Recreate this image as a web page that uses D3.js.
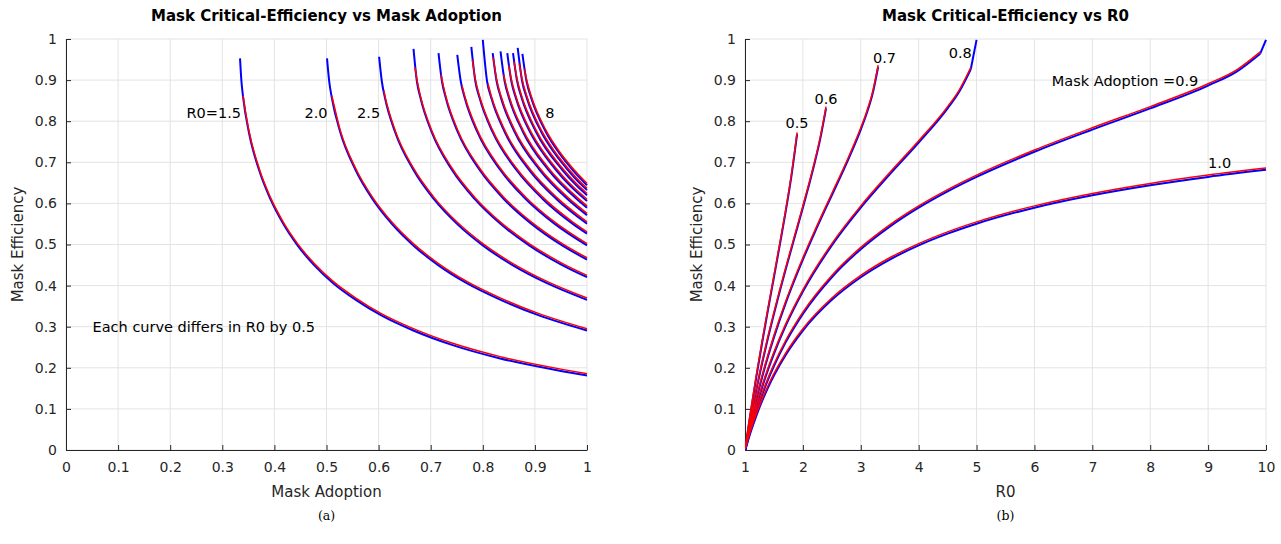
<!DOCTYPE html>
<html><head><meta charset="utf-8">
<script src="https://cdn.jsdelivr.net/npm/d3@7"></script>
<style>
html,body{margin:0;padding:0;background:#fff;}
svg text{font-family:"DejaVu Sans",sans-serif;fill:#262626;}
</style></head>
<body>
<svg id="chart" width="1281" height="544"></svg>
<script>
// ---------------- Panel (a): efficiency vs adoption, one curve per R0 ----------------
const leftR0 = [1.5, 2.0, 2.5, 3.0, 3.5, 4.0, 4.5, 5.0, 5.5, 6.0, 6.5, 7.0, 7.5, 8.0];
const leftBodyP = [
  [.3367,.3401,.3509,.3704,.3922,.4167,.4444,.4762,.5128,.5556,.6061,.6667,.7407,.8333,.9524,1],
  [.5051,.5102,.5263,.5556,.5882,.625,.6667,.7143,.7692,.8333,.9091,1],
  [.6061,.6122,.6316,.6667,.7059,.75,.8,.8571,.9231,1],
  [.6734,.6803,.7018,.7407,.7843,.8333,.8889,.9524,1],
  [.7215,.7289,.7519,.7937,.8403,.8929,.9524,1],
  [.7576,.7653,.7895,.8333,.8824,.9375,1],
  [.7856,.7937,.8187,.8642,.9150,.9722,1],
  [.8081,.8163,.8421,.8889,.9412,1],
  [.8264,.8349,.8612,.9091,.9626,1],
  [.8418,.8503,.8772,.9259,.9804,1],
  [.8547,.8634,.8907,.9148,.9402,.9670,1],
  [.8658,.8746,.9023,.9524,.9796,1],
  [.8754,.8844,.9123,.9369,.9630,.9905,1],
  [.8838,.8929,.9211,.9459,.9722,1]
];
const leftBodyE = [
  [.900,.859,.776,.684,.613,.553,.500,.452,.408,.368,.329,.293,.258,.225,.194,.1835],
  [.900,.859,.776,.684,.613,.553,.500,.452,.408,.368,.329,.2929],
  [.900,.859,.776,.684,.613,.553,.500,.452,.408,.3675],
  [.900,.859,.776,.684,.613,.553,.500,.452,.4226],
  [.900,.859,.776,.684,.613,.553,.500,.4655],
  [.900,.859,.776,.684,.613,.553,.500],
  [.900,.859,.776,.684,.613,.553,.5286],
  [.900,.859,.776,.684,.613,.5528],
  [.900,.859,.776,.684,.613,.5736],
  [.900,.859,.776,.684,.613,.5918],
  [.900,.859,.776,.726,.684,.646,.6078],
  [.900,.859,.776,.684,.646,.6220],
  [.900,.859,.776,.726,.684,.646,.6349],
  [.900,.859,.776,.726,.684,.6464]
];
const leftBlueTopP = [.334,.501,.601,.667,.715,.751,.778,.800,.819,.834,.847,.858,.867,.876];
const leftBlueTopE = [.955,.955,.959,.978,.968,.9635,.983,1.0,.968,.972,.968,.968,.9805,.966];
const leftRedTopP  = [.34,.51,.61,.67,.72,.76,.78,.81,.82,.84,.85,.86,.87,.88];
const leftRedTopE  = [.860,.860,.872,.929,.911,.885,.947,.889,.953,.911,.933,.942,.938,.925];
const leftTicks = [0,0.1,0.2,0.3,0.4,0.5,0.6,0.7,0.8,0.9,1];
const effTicks  = [0,0.1,0.2,0.3,0.4,0.5,0.6,0.7,0.8,0.9,1];
const leftLabels = [
  {text:"R0=1.5", p:0.336, e:0.82, anchor:"end"},
  {text:"2.0", p:0.502, e:0.82, anchor:"end"},
  {text:"2.5", p:0.603, e:0.82, anchor:"end"},
  {text:"8", p:0.92, e:0.82, anchor:"start"},
  {text:"Each curve differs in R0 by 0.5", p:0.051, e:0.30, anchor:"start"}
];

// ---------------- Panel (b): efficiency vs R0, one curve per adoption ----------------
const rightAdoption = [0.5, 0.6, 0.7, 0.8, 0.9, 1.0];
const rightR0 = [
  [1,1.05,1.1,1.2,1.3,1.4,1.5,1.6,1.7,1.8,1.9],
  [1,1.05,1.1,1.2,1.3,1.4,1.5,1.6,1.7,1.8,1.9,2,2.1,2.2,2.3,2.4],
  [1,1.05,1.1,1.2,1.3,1.4,1.5,1.7,1.8,2,2.2,2.4,2.5,2.8,3,3.1,3.2,3.3],
  [1,1.05,1.1,1.2,1.3,1.4,1.5,1.7,2,2.5,3,3.5,4,4.5,4.7,4.9],
  [1,1.05,1.1,1.2,1.3,1.4,1.5,1.7,2,2.5,3,3.5,4,4.5,5,6,7,8,9,9.5,9.9],
  [1,1.05,1.1,1.2,1.3,1.4,1.5,1.7,2,2.5,3,3.5,4,4.5,5,6,7,8,9,10]
];
const rightE = [
  [0,.0488,.0955,.1835,.2662,.3453,.4226,.5,.5799,.6667,.7706],
  [0,.0405,.0789,.1502,.2155,.2763,.3333,.3876,.4399,.4908,.5412,.5918,.6437,.6985,.7592,.8333],
  [0,.0346,.0672,.1271,.1813,.2307,.2763,.3583,.3958,.4655,.5301,.5918,.6220,.7143,.7818,.8204,.8664,.9342],
  [0,.0302,.0585,.1102,.1565,.1982,.2362,.3034,.3876,.5,.5918,.6727,.75,.8333,.8737,.9286],
  [0,.0268,.0519,.0973,.1377,.1738,.2065,.2635,.3333,.4226,.4908,.5457,.5918,.6315,.6667,.7278,.7818,.8333,.8889,.9235,.9665],
  [0,.0241,.0465,.0871,.1229,.1548,.1835,.2330,.2929,.3675,.4226,.4655,.5,.5286,.5528,.5918,.6220,.6464,.6667,.6838]
];
// blue series carries one more sample at the top for adoption 0.8 and 0.9
const rightBlueExtraR0 = [null, null, null, 5, 10, null];
const rightBlueExtraE  = [null, null, null, 1, 1, null];
const rightTicks = [1,2,3,4,5,6,7,8,9,10];
const rightLabels = [
  {text:"0.5", r:1.70, e:0.795},
  {text:"0.6", r:2.20, e:0.854},
  {text:"0.7", r:3.21, e:0.955},
  {text:"0.8", r:4.52, e:0.967},
  {text:"Mask Adoption =0.9", r:6.30, e:0.899},
  {text:"1.0", r:9.00, e:0.698}
];

// ---------------- drawing ----------------
const svg = d3.select("#chart");
const TOP = 39, BOTTOM = 450;
const AXIS = "#262626", GRID = "#e3e3e3";

function panel(x0, x1, xDomain, xTicks, xFmt, title, xLabel, caption, clipId) {
  const x = d3.scaleLinear().domain(xDomain).range([x0, x1]);
  const y = d3.scaleLinear().domain([0, 1]).range([BOTTOM, TOP]);
  const g = svg.append("g");
  g.append("g").selectAll("line").data(xTicks).join("line")
    .attr("x1", d => x(d)).attr("x2", d => x(d)).attr("y1", TOP).attr("y2", BOTTOM)
    .attr("stroke", GRID).attr("stroke-width", 1);
  g.append("g").selectAll("line").data(effTicks).join("line")
    .attr("x1", x0).attr("x2", x1).attr("y1", d => y(d)).attr("y2", d => y(d))
    .attr("stroke", GRID).attr("stroke-width", 1);
  const xa = g.append("g").attr("transform", `translate(0,${BOTTOM})`)
    .call(d3.axisBottom(x).tickValues(xTicks).tickFormat(xFmt).tickSizeInner(-5).tickSizeOuter(0).tickPadding(12));
  const ya = g.append("g").attr("transform", `translate(${x0},0)`)
    .call(d3.axisLeft(y).tickValues(effTicks).tickFormat(d3.format("~g")).tickSizeInner(-5).tickSizeOuter(0).tickPadding(9));
  [xa, ya].forEach(a => {
    a.select(".domain").attr("stroke", AXIS).attr("stroke-width", 1);
    a.selectAll(".tick line").attr("stroke", AXIS);
    a.selectAll(".tick text").attr("fill", AXIS).style("font-size", "14px").style("font-family", "DejaVu Sans");
  });
  g.append("text").attr("x", (x0 + x1) / 2).attr("y", 21).attr("text-anchor", "middle")
    .style("font-size", "15px").style("font-weight", "bold").style("fill", "#000").text(title);
  g.append("text").attr("x", (x0 + x1) / 2).attr("y", 497).attr("text-anchor", "middle")
    .style("font-size", "15px").text(xLabel);
  g.append("text").attr("transform", `translate(${x0 - 48},${(TOP + BOTTOM) / 2}) rotate(-90)`)
    .attr("text-anchor", "middle").attr("dy", "0.35em").style("font-size", "15px").text("Mask Efficiency");
  g.append("text").attr("x", (x0 + x1) / 2).attr("y", 520).attr("text-anchor", "middle")
    .style("font-family", "DejaVu Serif").style("font-size", "12.5px").style("fill", "#000").text(caption);
  svg.append("clipPath").attr("id", clipId).append("rect")
    .attr("x", x0).attr("y", TOP - 1).attr("width", x1 - x0 + 1).attr("height", BOTTOM - TOP + 1);
  const plot = g.append("g").attr("clip-path", `url(#${clipId})`);
  return {x, y, g, plot};
}

// Panel (a)
const A = panel(66, 587, [0, 1], leftTicks, d3.format("~g"),
  "Mask Critical-Efficiency vs Mask Adoption", "Mask Adoption", "(a)", "clipA");
const lineA = d3.line().x(d => A.x(d[0])).y(d => A.y(d[1])).curve(d3.curveMonotoneX);
const blueA = leftR0.map((r, i) => [[leftBlueTopP[i], leftBlueTopE[i]]]
  .concat(leftBodyP[i].map((p, j) => [p, leftBodyE[i][j]]).filter(d => d[0] > leftBlueTopP[i])));
const redA = leftR0.map((r, i) => [[leftRedTopP[i], leftRedTopE[i]]]
  .concat(leftBodyP[i].map((p, j) => [p, leftBodyE[i][j]]).filter(d => d[0] > leftRedTopP[i])));
A.plot.append("g").attr("transform", "translate(0,0.9)").selectAll("path").data(blueA).join("path")
  .attr("d", lineA).attr("fill", "none").attr("stroke", "#0000ff").attr("stroke-width", 2);
A.plot.append("g").attr("transform", "translate(0,-0.9)").selectAll("path").data(redA).join("path")
  .attr("d", lineA).attr("fill", "none").attr("stroke", "#ff0000").attr("stroke-width", 1.5);
A.g.append("g").selectAll("text").data(leftLabels).join("text")
  .attr("x", d => A.x(d.p)).attr("y", d => A.y(d.e)).attr("dy", "0.35em")
  .attr("text-anchor", d => d.anchor).style("font-size", "14.5px").style("fill", "#000").text(d => d.text);

// Panel (b)
const B = panel(745, 1266, [1, 10], rightTicks, d3.format("d"),
  "Mask Critical-Efficiency vs R0", "R0", "(b)", "clipB");
const lineB = d3.line().x(d => B.x(d[0])).y(d => B.y(d[1])).curve(d3.curveMonotoneX);
const segB = d3.line().x(d => B.x(d[0])).y(d => B.y(d[1]));
const redB = rightAdoption.map((a, i) => rightR0[i].map((r, j) => [r, rightE[i][j]]));
const blueExtra = rightAdoption.map((a, i) => rightBlueExtraR0[i] === null ? null :
  [redB[i][redB[i].length - 1], [rightBlueExtraR0[i], rightBlueExtraE[i]]]).filter(d => d);
const blueG = B.plot.append("g").attr("transform", "translate(0,0.9)");
blueG.selectAll("path.c").data(redB).join("path").attr("class", "c")
  .attr("d", lineB).attr("fill", "none").attr("stroke", "#0000ff").attr("stroke-width", 2);
blueG.selectAll("path.x").data(blueExtra).join("path").attr("class", "x")
  .attr("d", segB).attr("fill", "none").attr("stroke", "#0000ff").attr("stroke-width", 2);
B.plot.append("g").attr("transform", "translate(0,-0.9)").selectAll("path").data(redB).join("path")
  .attr("d", lineB).attr("fill", "none").attr("stroke", "#ff0000").attr("stroke-width", 1.5);
B.g.append("g").selectAll("text").data(rightLabels).join("text")
  .attr("x", d => B.x(d.r)).attr("y", d => B.y(d.e)).attr("dy", "0.35em")
  .attr("text-anchor", "start").style("font-size", "14.5px").style("fill", "#000").text(d => d.text);
</script>
</body></html>
